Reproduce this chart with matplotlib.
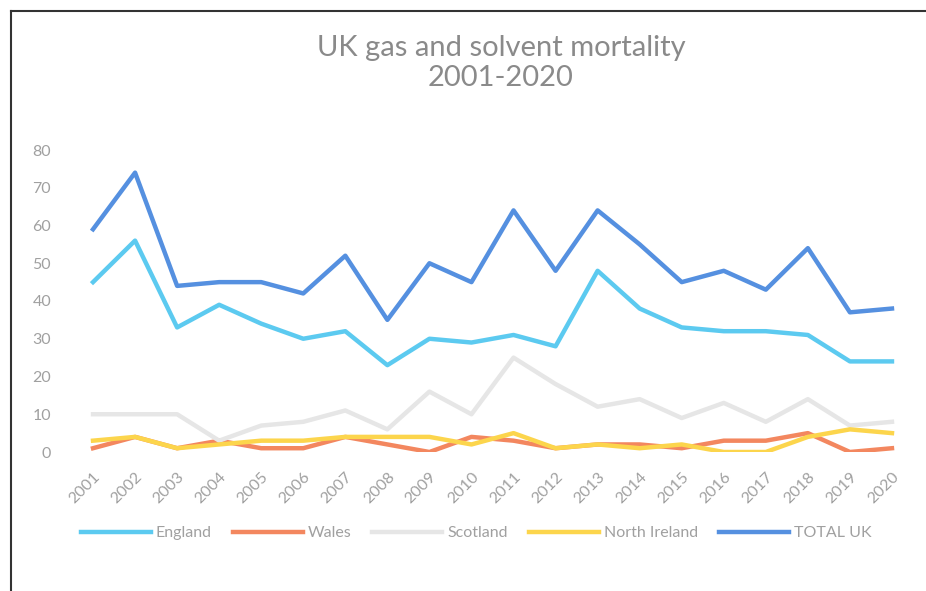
import matplotlib.pyplot as plt
from matplotlib.lines import Line2D

years = [str(y) for y in range(2001, 2021)]
england = [45, 56, 33, 39, 34, 30, 32, 23, 30, 29, 31, 28, 48, 38, 33, 32, 32, 31, 24, 24]
wales = [1, 4, 1, 3, 1, 1, 4, 2, 0, 4, 3, 1, 2, 2, 1, 3, 3, 5, 0, 1]
scotland = [10, 10, 10, 3, 7, 8, 11, 6, 16, 10, 25, 18, 12, 14, 9, 13, 8, 14, 7, 8]
north_ireland = [3, 4, 1, 2, 3, 3, 4, 4, 4, 2, 5, 1, 2, 1, 2, 0, 0, 4, 6, 5]
total_uk = [59, 74, 44, 45, 45, 42, 52, 35, 50, 45, 64, 48, 64, 55, 45, 48, 43, 54, 37, 38]

series = [
    ("England", england, "#5ccaf0"),
    ("Wales", wales, "#f3875f"),
    ("Scotland", scotland, "#e6e6e6"),
    ("North Ireland", north_ireland, "#fcd54c"),
    ("TOTAL UK", total_uk, "#5590e0"),
]

plt.rcParams['font.family'] = ['Lato', 'DejaVu Sans']
grey = "#a0a0a0"

W, H = 926, 591
fig = plt.figure(figsize=(W / 100, H / 100), dpi=100)
ax = fig.add_axes([72 / W, (H - 452) / H, (913 - 72) / W, (452 - 150) / H])

x = list(range(len(years)))
for name, vals, col in series:
    ax.plot(x, vals, color=col, lw=3.2, label=name)

ax.set_xlim(-0.5, 19.5)
ax.set_ylim(0, 80)
ax.set_yticks(range(0, 81, 10))
ax.set_xticks(x)
ax.set_xticklabels(years, rotation=45, ha='right', rotation_mode='anchor')
ax.tick_params(axis='both', length=0, colors=grey, labelsize=11.5)
ax.tick_params(axis='x', pad=13)
ax.tick_params(axis='y', pad=15)
for s in ax.spines.values():
    s.set_visible(False)

fig.text(501 / W, 1 - 63 / H, "UK gas and solvent mortality\n2001-2020", ha='center',
         va='center', fontsize=21, color="#8a8a8a", linespacing=1.2)

ax.legend(loc='center', bbox_to_anchor=(476 / W, (H - 533) / H), bbox_transform=fig.transFigure,
          ncol=5, frameon=False, handlelength=4.4, handletextpad=0.3, columnspacing=1.3,
          fontsize=11.5, labelcolor=grey)

# outer frame (left and top only visible)
fig.add_artist(Line2D([11 / W, 11 / W], [0, 1 - 11 / H], color="#333333", lw=1.5))
fig.add_artist(Line2D([11 / W, 1], [1 - 11 / H, 1 - 11 / H], color="#333333", lw=1.5))

fig.savefig("out.png", dpi=100)
